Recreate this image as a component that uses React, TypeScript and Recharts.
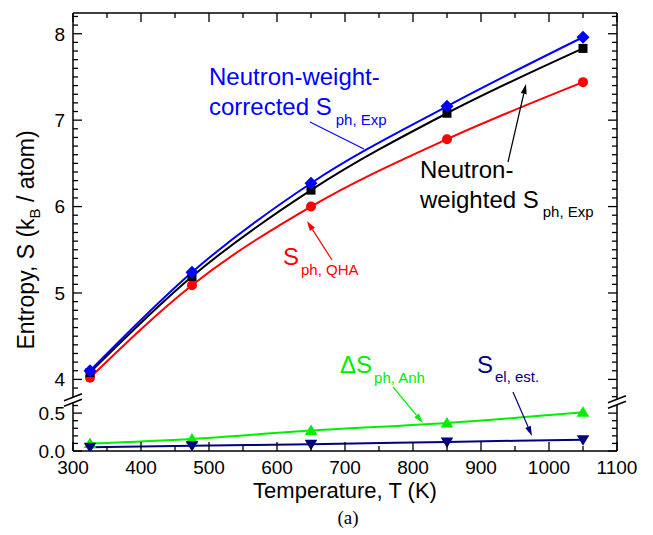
import { LineChart, Line, XAxis, YAxis } from "recharts";

// temperatures of the five measurements (K)
const temperatures = [325, 475, 650, 850, 1050];

// upper panel, entropy in kB / atom
const sCorrected = [4.1, 5.24, 6.27, 7.16, 7.96];
const sWeighted = [4.08, 5.19, 6.19, 7.08, 7.83];
const sQha = [4.02, 5.09, 6.0, 6.78, 7.44];

// lower panel
const dsAnh = [0.1, 0.16, 0.27, 0.37, 0.51];
const sEl = [0.05, 0.07, 0.09, 0.12, 0.15];

// axis ticks (majors get a label, the rest are minor marks)
const xMajor = [300, 400, 500, 600, 700, 800, 900, 1000, 1100];
const yMajorUpper = [4, 5, 6, 7, 8];
const yMajorLower = [0, 0.5];

const xTicks = Array.from({ length: 17 }, (_, i) => 300 + i * 50);
const yTicksUpper = Array.from({ length: 45 }, (_, i) => Math.round(38 + i) / 10);
const yTicksLower = Array.from({ length: 7 }, (_, i) => i / 10);

const upperData = temperatures.map((t, i) => ({
  t,
  corrected: sCorrected[i],
  weighted: sWeighted[i],
  qha: sQha[i],
}));

const lowerData = temperatures.map((t, i) => ({
  t,
  anh: dsAnh[i],
  el: sEl[i],
}));

const W = 653;
const H = 535;
const LEFT = 73;
const RIGHT = 36;
const SPLIT = 401; // y where the axis break sits
const BOTTOM_AXIS = 84;
const MAJOR = 9;
const MINOR = 5;
const FONT = "'Liberation Sans', Arial, sans-serif";

const BLUE = "#0000ff";
const RED = "#ff0000";
const GREEN = "#00ee00";
const NAVY = "#000080";

const has = (arr: number[], v: number) => arr.some((m) => Math.abs(m - v) < 1e-6);

function LeftTick(props: any) {
  const { x, y, payload, majors, fmt } = props;
  const major = has(majors, payload.value);
  return (
    <g>
      <line x1={x} x2={x + (major ? MAJOR : MINOR)} y1={y} y2={y} stroke="#000" strokeWidth={1.3} />
      {major && (
        <text x={x - 8} y={y} dy="0.36em" textAnchor="end" fontSize={19} fill="#000">
          {fmt(payload.value)}
        </text>
      )}
    </g>
  );
}

function RightTick(props: any) {
  const { x, y, payload, majors } = props;
  const major = has(majors, payload.value);
  return <line x1={x} x2={x - (major ? MAJOR : MINOR)} y1={y} y2={y} stroke="#000" strokeWidth={1.3} />;
}

function TopTick(props: any) {
  const { x, y, payload } = props;
  const major = has(xMajor, payload.value);
  return <line x1={x} x2={x} y1={y} y2={y + (major ? MAJOR : MINOR)} stroke="#000" strokeWidth={1.3} />;
}

function BottomTick(props: any) {
  const { x, y, payload } = props;
  const major = has(xMajor, payload.value);
  return (
    <g>
      <line x1={x} x2={x} y1={y} y2={y - (major ? MAJOR : MINOR)} stroke="#000" strokeWidth={1.3} />
      {major && (
        <text x={x} y={y + 22.5} textAnchor="middle" fontSize={19} fill="#000">
          {payload.value}
        </text>
      )}
    </g>
  );
}

const diamond = (color: string, r: number) => (p: any) => {
  const { cx, cy } = p;
  if (cx == null || cy == null) return <g />;
  return <path d={`M${cx},${cy - r}L${cx + r},${cy}L${cx},${cy + r}L${cx - r},${cy}Z`} fill={color} />;
};

const square = (color: string, r: number) => (p: any) => {
  const { cx, cy } = p;
  if (cx == null || cy == null) return <g />;
  return <rect x={cx - r} y={cy - r} width={2 * r} height={2 * r} fill={color} />;
};

const circle = (color: string, r: number) => (p: any) => {
  const { cx, cy } = p;
  if (cx == null || cy == null) return <g />;
  return <circle cx={cx} cy={cy} r={r} fill={color} />;
};

const triangle = (color: string, r: number, down: boolean) => (p: any) => {
  const { cx, cy } = p;
  if (cx == null || cy == null) return <g />;
  const s = down ? -1 : 1;
  return (
    <path
      d={`M${cx},${cy - s * r}L${cx + r * 1.05},${cy + s * r * 0.75}L${cx - r * 1.05},${cy + s * r * 0.75}Z`}
      fill={color}
    />
  );
};

const axisLine = { stroke: "#000", strokeWidth: 1.5 };

function Arrow({ x1, y1, x2, y2, color, head = true }: any) {
  const a = Math.atan2(y2 - y1, x2 - x1);
  const L = 10;
  const w = 3;
  const bx = x2 - L * Math.cos(a);
  const by = y2 - L * Math.sin(a);
  const px = -Math.sin(a) * w;
  const py = Math.cos(a) * w;
  return (
    <g>
      <line x1={x1} y1={y1} x2={head ? bx : x2} y2={head ? by : y2} stroke={color} strokeWidth={1.2} />
      {head && <path d={`M${x2},${y2}L${bx + px},${by + py}L${bx - px},${by - py}Z`} fill={color} />}
    </g>
  );
}

// the two slanted strokes over a broken axis
function BreakMark({ cx, cy }: { cx: number; cy: number }) {
  const dx = 9;
  const dy = 3.5;
  const g = 2.8;
  return (
    <g>
      <path
        d={`M${cx - dx},${cy - g + dy}L${cx + dx},${cy - g - dy}L${cx + dx},${cy + g - dy}L${cx - dx},${cy + g + dy}Z`}
        fill="#fff"
      />
      <line x1={cx - dx} y1={cy - g + dy} x2={cx + dx} y2={cy - g - dy} stroke="#000" strokeWidth={1.5} />
      <line x1={cx - dx} y1={cy + g + dy} x2={cx + dx} y2={cy + g - dy} stroke="#000" strokeWidth={1.5} />
    </g>
  );
}

export default function App() {
  return (
    <div style={{ position: "absolute", left: 0, top: 0, width: W, height: H, background: "#fff", fontFamily: FONT }}>
      {/* upper panel: 3.75 .. 8.24 */}
      <div style={{ position: "absolute", left: 0, top: 0 }}>
        <LineChart width={W} height={SPLIT} data={upperData} margin={{ top: 0, right: 0, bottom: 0, left: 0 }}>
          <XAxis
            xAxisId="top"
            orientation="top"
            dataKey="t"
            type="number"
            domain={[300, 1100]}
            ticks={xTicks}
            interval={0}
            height={13}
            tickSize={0}
            tickMargin={0}
            tickLine={false}
            axisLine={axisLine}
            tick={<TopTick />}
          />
          <YAxis
            yAxisId="l"
            type="number"
            domain={[3.75, 8.24]}
            allowDataOverflow
            ticks={yTicksUpper}
            interval={0}
            width={LEFT}
            tickSize={0}
            tickMargin={0}
            tickLine={false}
            axisLine={axisLine}
            tick={(p: any) => <LeftTick {...p} majors={yMajorUpper} fmt={(v: number) => String(v)} />}
          />
          <YAxis
            yAxisId="r"
            orientation="right"
            type="number"
            domain={[3.75, 8.24]}
            allowDataOverflow
            ticks={yTicksUpper}
            interval={0}
            width={RIGHT}
            tickSize={0}
            tickMargin={0}
            tickLine={false}
            axisLine={axisLine}
            tick={(p: any) => <RightTick {...p} majors={yMajorUpper} />}
          />
          <Line xAxisId="top" yAxisId="l" type="monotone" dataKey="qha" stroke={RED} strokeWidth={2} dot={circle(RED, 5)} isAnimationActive={false} />
          <Line xAxisId="top" yAxisId="l" type="monotone" dataKey="weighted" stroke="#000" strokeWidth={2} dot={square("#000", 4.5)} isAnimationActive={false} />
          <Line xAxisId="top" yAxisId="l" type="monotone" dataKey="corrected" stroke={BLUE} strokeWidth={2} dot={diamond(BLUE, 6.5)} isAnimationActive={false} />
        </LineChart>
      </div>

      {/* lower panel: 0 .. 0.66 */}
      <div style={{ position: "absolute", left: 0, top: SPLIT }}>
        <LineChart width={W} height={H - SPLIT} data={lowerData} margin={{ top: 0, right: 0, bottom: 0, left: 0 }}>
          <XAxis
            dataKey="t"
            type="number"
            domain={[300, 1100]}
            ticks={xTicks}
            interval={0}
            height={BOTTOM_AXIS}
            tickSize={0}
            tickMargin={0}
            tickLine={false}
            axisLine={axisLine}
            tick={<BottomTick />}
          />
          <YAxis
            yAxisId="l"
            type="number"
            domain={[0, 0.66]}
            allowDataOverflow
            ticks={yTicksLower}
            interval={0}
            width={LEFT}
            tickSize={0}
            tickMargin={0}
            tickLine={false}
            axisLine={axisLine}
            tick={(p: any) => <LeftTick {...p} majors={yMajorLower} fmt={(v: number) => v.toFixed(1)} />}
          />
          <YAxis
            yAxisId="r"
            orientation="right"
            type="number"
            domain={[0, 0.66]}
            allowDataOverflow
            ticks={yTicksLower}
            interval={0}
            width={RIGHT}
            tickSize={0}
            tickMargin={0}
            tickLine={false}
            axisLine={axisLine}
            tick={(p: any) => <RightTick {...p} majors={yMajorLower} />}
          />
          <Line yAxisId="l" type="monotone" dataKey="anh" stroke={GREEN} strokeWidth={2} dot={triangle(GREEN, 6, false)} isAnimationActive={false} />
          <Line yAxisId="l" type="monotone" dataKey="el" stroke={NAVY} strokeWidth={2} dot={triangle(NAVY, 6, true)} isAnimationActive={false} />
        </LineChart>
      </div>

      {/* titles, annotations, axis breaks */}
      <svg width={W} height={H} style={{ position: "absolute", left: 0, top: 0, pointerEvents: "none", fontFamily: FONT }}>
        <BreakMark cx={73} cy={SPLIT - 1} />
        <BreakMark cx={617} cy={SPLIT + 1} />

        <text transform="translate(34,240) rotate(-90)" textAnchor="middle" fontSize={23} fill="#000">
          Entropy, S (k<tspan fontSize={15} dy={6}>B</tspan>
          <tspan dy={-6}> / atom)</tspan>
        </text>
        <text x={345} y={498} textAnchor="middle" fontSize={22} fill="#000">
          Temperature, T (K)
        </text>
        <text x={348} y={524} textAnchor="middle" fontSize={19} fill="#000" fontFamily="'Liberation Serif', 'Times New Roman', serif">
          (a)
        </text>

        <g fill={BLUE} fontSize={24}>
          <text x={209} y={85}>Neutron-weight-</text>
          <text x={209} y={115}>
            corrected S<tspan fontSize={15} dx={4} dy={10}>ph, Exp</tspan>
          </text>
        </g>
        <Arrow x1={310} y1={122} x2={364} y2={149} color={BLUE} head={false} />

        <g fill="#000" fontSize={24}>
          <text x={420} y={178}>Neutron-</text>
          <text x={420} y={208}>
            weighted S<tspan fontSize={15} dx={4} dy={9}>ph, Exp</tspan>
          </text>
        </g>
        <Arrow x1={508} y1={162} x2={526} y2={84} color="#000" />

        <text x={283} y={265} fill={RED} fontSize={24}>
          S<tspan fontSize={15} dx={2} dy={10}>ph, QHA</tspan>
        </text>
        <Arrow x1={332} y1={260} x2={307} y2={221} color={RED} />

        <text x={340} y={373} fill={GREEN} fontSize={24}>
          ΔS<tspan fontSize={15} dx={2} dy={10}>ph, Anh</tspan>
        </text>
        <Arrow x1={393} y1={387} x2={423} y2={423} color={GREEN} />

        <text x={477} y={373} fill={NAVY} fontSize={24}>
          S<tspan fontSize={15} dx={2} dy={9}>el, est.</tspan>
        </text>
        <Arrow x1={513} y1={392} x2={532} y2={436} color={NAVY} />
      </svg>
    </div>
  );
}
